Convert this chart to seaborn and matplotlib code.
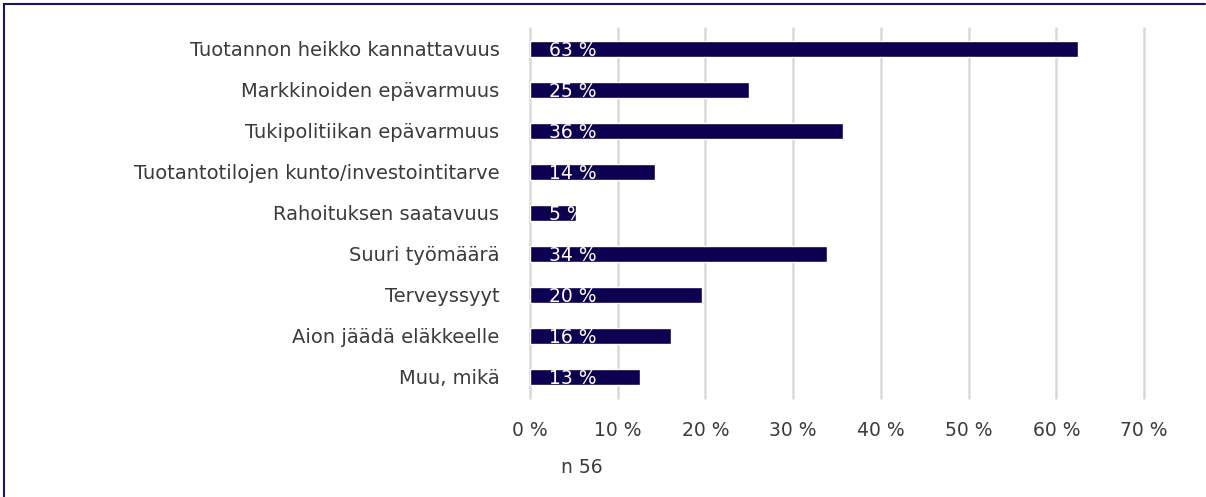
import pandas as pd
import matplotlib.pyplot as plt
import seaborn as sns
from matplotlib.lines import Line2D

# data
categories = [
    "Tuotannon heikko kannattavuus",
    "Markkinoiden epävarmuus",
    "Tukipolitiikan epävarmuus",
    "Tuotantotilojen kunto/investointitarve",
    "Rahoituksen saatavuus",
    "Suuri työmäärä",
    "Terveyssyyt",
    "Aion jäädä eläkkeelle",
    "Muu, mikä",
]
shares = [62.5, 25.0, 35.7, 14.3, 5.2, 33.9, 19.6, 16.1, 12.5]
share_labels = ["63 %", "25 %", "36 %", "14 %", "5 %", "34 %", "20 %", "16 %", "13 %"]
xticks = [0, 10, 20, 30, 40, 50, 60, 70]
n_note = "n 56"

df = pd.DataFrame({"category": categories, "share": shares})

sns.set_style("white")
plt.rcParams["font.family"] = ["DejaVu Sans"]

bar_color = "#0d0050"
text_color = "#3b3b3b"

fig = plt.figure(figsize=(12.06, 4.97), dpi=100)
ax = fig.add_axes([0.4395, 0.2002, 0.5091, 0.7425])

sns.barplot(data=df, x="share", y="category", orient="h",
            color=bar_color, width=0.37, saturation=1, ax=ax)

ax.set_xlim(0, 70)
ax.set_ylim(8.5, -0.5)
ax.set_xticks(xticks)
ax.set_xticklabels([f"{v} %" for v in xticks])
ax.tick_params(axis="x", labelsize=13.5, colors=text_color, pad=17, length=0)
ax.tick_params(axis="y", labelsize=14, colors=text_color, pad=22, length=0)
ax.set_xlabel("")
ax.set_ylabel("")
ax.grid(axis="x", color="#d9d9d9", linewidth=1.8)
ax.set_axisbelow(True)
# keep the edge gridlines (0 % and 70 %) at full width
for gl in ax.get_xgridlines():
    gl.set_clip_on(False)
for s in ax.spines.values():
    s.set_visible(False)

# white labels at the base of each bar
for i, lab in enumerate(share_labels):
    ax.annotate(lab, xy=(0, i), xytext=(14, 0), textcoords="offset points",
                ha="left", va="center_baseline", color="white", fontsize=13.5)

fig.text(0.465, 0.06, n_note, ha="left", va="center", fontsize=13.5, color=text_color)

# frame around the figure (only top and left are visible in the reference)
frame_color = "#1a1466"
fig.add_artist(Line2D([4 / 1206, 1205 / 1206], [1 - 4 / 497, 1 - 4 / 497],
                      transform=fig.transFigure, color=frame_color, linewidth=1.5))
fig.add_artist(Line2D([4 / 1206, 4 / 1206], [0, 1 - 4 / 497],
                      transform=fig.transFigure, color=frame_color, linewidth=1.5))

fig.savefig("out.png", dpi=100)
